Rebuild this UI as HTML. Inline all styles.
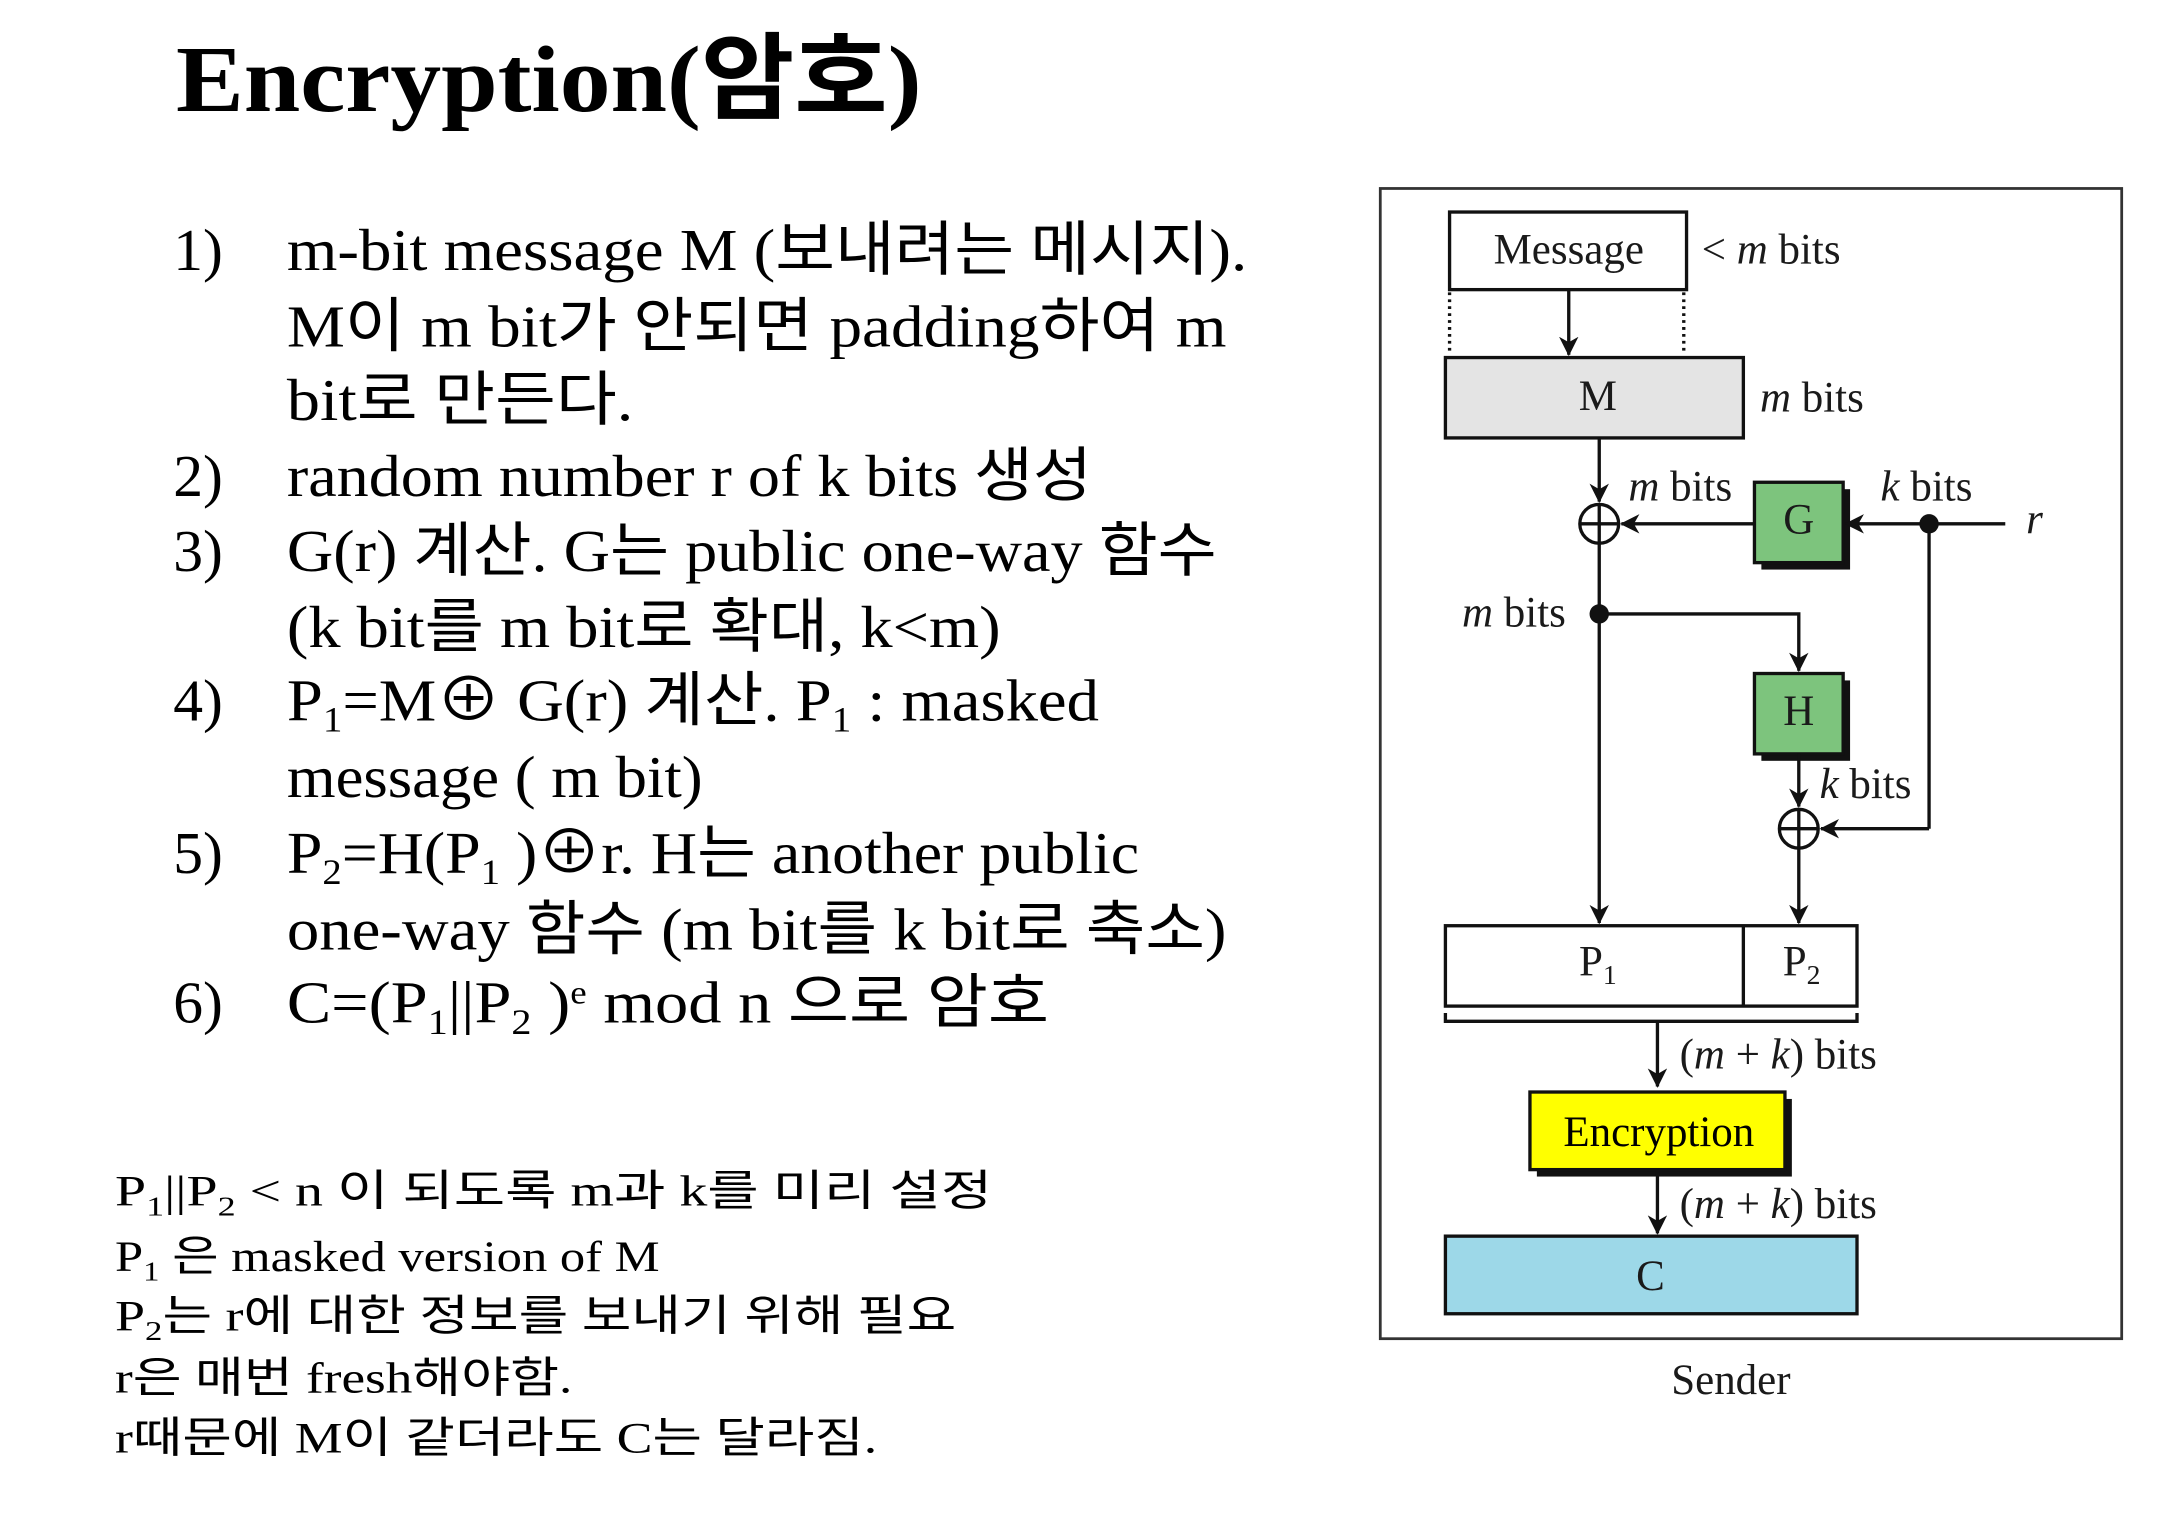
<!DOCTYPE html>
<html><head><meta charset="utf-8"><style>
html,body{margin:0;padding:0;background:#fff;}
svg{display:block}
.s{font-family:"Liberation Serif","Noto Sans CJK KR",serif;}
.k{font-family:"Liberation Serif","Noto Sans CJK KR",sans-serif;}
</style></head><body>
<svg width="2172" height="1528" viewBox="0 0 1567.3 1102.6" preserveAspectRatio="none" xmlns="http://www.w3.org/2000/svg">
<defs>
<marker id="a" markerWidth="14" markerHeight="14" refX="13" refY="7" orient="auto" markerUnits="userSpaceOnUse"><path d="M0,0 L14,7 L0,14 L4,7 Z" fill="#111"/></marker>
</defs>
<text x="127" y="80" class="s" font-size="68" font-weight="bold" fill="#000" textLength="538" lengthAdjust="spacingAndGlyphs">Encryption(암호)</text>

<g class="s" font-size="43" fill="#000">
<text x="125" y="195">1)</text>
<text x="207" y="195" textLength="693" lengthAdjust="spacingAndGlyphs">m-bit message M (보내려는 메시지).</text>
<text x="207" y="250" textLength="678" lengthAdjust="spacingAndGlyphs">M이 m bit가 안되면 padding하여 m</text>
<text x="207" y="303" textLength="250" lengthAdjust="spacingAndGlyphs">bit로 만든다.</text>
<text x="125" y="358">2)</text>
<text x="207" y="358" textLength="581" lengthAdjust="spacingAndGlyphs">random number r of k bits  생성</text>
<text x="125" y="412">3)</text>
<text x="207" y="412" textLength="671" lengthAdjust="spacingAndGlyphs">G(r) 계산. G는 public one-way 함수</text>
<text x="207" y="467" textLength="515" lengthAdjust="spacingAndGlyphs">(k bit를 m bit로 확대, k&lt;m)</text>
<text x="125" y="520">4)</text>
<text x="207" y="520" textLength="586" lengthAdjust="spacingAndGlyphs">P<tspan font-size="26" dy="8">1</tspan><tspan dy="-8">=M⊕ G(r) 계산.  P</tspan><tspan font-size="26" dy="8">1</tspan><tspan dy="-8"> : masked</tspan></text>
<text x="207" y="575" textLength="300" lengthAdjust="spacingAndGlyphs">message ( m bit)</text>
<text x="125" y="630">5)</text>
<text x="207" y="630" textLength="615" lengthAdjust="spacingAndGlyphs">P<tspan font-size="26" dy="8">2</tspan><tspan dy="-8">=H(P</tspan><tspan font-size="26" dy="8">1</tspan><tspan dy="-8"> )⊕r. H는 another public</tspan></text>
<text x="207" y="685" textLength="678" lengthAdjust="spacingAndGlyphs">one-way 함수 (m bit를 k bit로 축소)</text>
<text x="125" y="738">6)</text>
<text x="207" y="738" textLength="550" lengthAdjust="spacingAndGlyphs">C=(P<tspan font-size="26" dy="8">1</tspan><tspan dy="-8">||P</tspan><tspan font-size="26" dy="8">2</tspan><tspan dy="-8"> )</tspan><tspan font-size="24" dy="-14">e</tspan><tspan dy="14"> mod n  으로 암호</tspan></text>
</g>

<g class="k" font-size="31" fill="#000">
<text x="83" y="870" textLength="633" lengthAdjust="spacingAndGlyphs">P<tspan font-size="20" dy="7">1</tspan><tspan dy="-7">||P</tspan><tspan font-size="20" dy="7">2</tspan><tspan dy="-7">  &lt; n 이 되도록 m과 k를 미리 설정</tspan></text>
<text x="83" y="917" textLength="393" lengthAdjust="spacingAndGlyphs">P<tspan font-size="20" dy="7">1</tspan><tspan dy="-7"> 은 masked version of M</tspan></text>
<text x="83" y="960" textLength="607" lengthAdjust="spacingAndGlyphs">P<tspan font-size="20" dy="7">2</tspan><tspan dy="-7">는 r에 대한 정보를 보내기 위해 필요</tspan></text>
<text x="83" y="1005" textLength="330" lengthAdjust="spacingAndGlyphs">r은 매번 fresh해야함.</text>
<text x="83" y="1048" textLength="550" lengthAdjust="spacingAndGlyphs">r때문에 M이 같더라도 C는 달라짐.</text>
</g>

<!-- diagram -->
<rect x="996" y="136" width="535" height="830" fill="none" stroke="#333" stroke-width="2"/>
<g stroke="#111" stroke-width="2.4" fill="none">
<rect x="1046" y="153" width="171" height="56" fill="#fff"/>
<line x1="1046" y1="211" x2="1046" y2="256" stroke-dasharray="2,3"/>
<line x1="1215" y1="211" x2="1215" y2="256" stroke-dasharray="2,3"/>
<line x1="1132" y1="209" x2="1132" y2="256" marker-end="url(#a)"/>
<rect x="1043" y="258" width="215" height="58" fill="#e4e4e4"/>
<line x1="1154" y1="316" x2="1154" y2="362" marker-end="url(#a)"/>
<circle cx="1154" cy="378" r="14" fill="#fff"/>
<line x1="1140" y1="378" x2="1168" y2="378"/><line x1="1154" y1="364" x2="1154" y2="392"/>
<rect x="1271" y="353" width="64" height="58" fill="#111" stroke="none"/>
<rect x="1266" y="348" width="64" height="58" fill="#7dc47d"/>
<line x1="1266" y1="378" x2="1170" y2="378" marker-end="url(#a)"/>
<line x1="1447" y1="378" x2="1332" y2="378" marker-end="url(#a)"/>
<line x1="1392" y1="378" x2="1392" y2="598"/>
<line x1="1392" y1="598" x2="1314" y2="598" marker-end="url(#a)"/>
<line x1="1154" y1="392" x2="1154" y2="666" marker-end="url(#a)"/>
<polyline points="1154,443 1298,443 1298,484" marker-end="url(#a)"/>
<rect x="1271" y="491" width="64" height="58" fill="#111" stroke="none"/>
<rect x="1266" y="486" width="64" height="58" fill="#7dc47d"/>
<line x1="1298" y1="544" x2="1298" y2="582" marker-end="url(#a)"/>
<circle cx="1298" cy="598" r="14" fill="#fff"/>
<line x1="1284" y1="598" x2="1312" y2="598"/><line x1="1298" y1="584" x2="1298" y2="612"/>
<line x1="1298" y1="612" x2="1298" y2="666" marker-end="url(#a)"/>
<rect x="1043" y="668" width="297" height="58" fill="#fff"/>
<line x1="1258" y1="668" x2="1258" y2="726"/>
<polyline points="1043,731 1043,737 1340,737 1340,731"/>
<line x1="1196" y1="738" x2="1196" y2="784" marker-end="url(#a)"/>
<rect x="1109" y="793" width="184" height="56" fill="#111" stroke="none"/>
<rect x="1104" y="788" width="184" height="56" fill="#ffff00"/>
<line x1="1196" y1="844" x2="1196" y2="890" marker-end="url(#a)"/>
<rect x="1043" y="892" width="297" height="56" fill="#9dd8e8"/>
</g>
<circle cx="1392" cy="378" r="7" fill="#111"/>
<circle cx="1154" cy="443" r="7" fill="#111"/>
<g font-family="Liberation Serif,serif" font-size="31" fill="#1a1a1a">
<text x="1132" y="190" text-anchor="middle">Message</text>
<text x="1228" y="190">&lt; <tspan font-style="italic">m</tspan> bits</text>
<text x="1153" y="296" text-anchor="middle">M</text>
<text x="1270" y="297"><tspan font-style="italic">m</tspan> bits</text>
<text x="1175" y="361"><tspan font-style="italic">m</tspan> bits</text>
<text x="1357" y="361"><tspan font-style="italic">k</tspan> bits</text>
<text x="1298" y="385" text-anchor="middle">G</text>
<text x="1462" y="385" font-style="italic">r</text>
<text x="1055" y="452"><tspan font-style="italic">m</tspan> bits</text>
<text x="1298" y="523" text-anchor="middle">H</text>
<text x="1313" y="576"><tspan font-style="italic">k</tspan> bits</text>
<text x="1153" y="704" text-anchor="middle">P<tspan font-size="20" dy="6">1</tspan></text>
<text x="1300" y="704" text-anchor="middle">P<tspan font-size="20" dy="6">2</tspan></text>
<text x="1212" y="771">(<tspan font-style="italic">m</tspan> + <tspan font-style="italic">k</tspan>) bits</text>
<text x="1197" y="827" text-anchor="middle" fill="#000">Encryption</text>
<text x="1212" y="879">(<tspan font-style="italic">m</tspan> + <tspan font-style="italic">k</tspan>) bits</text>
<text x="1191" y="931" text-anchor="middle">C</text>
<text x="1249" y="1006" text-anchor="middle">Sender</text>
</g>
</svg>
</body></html>
